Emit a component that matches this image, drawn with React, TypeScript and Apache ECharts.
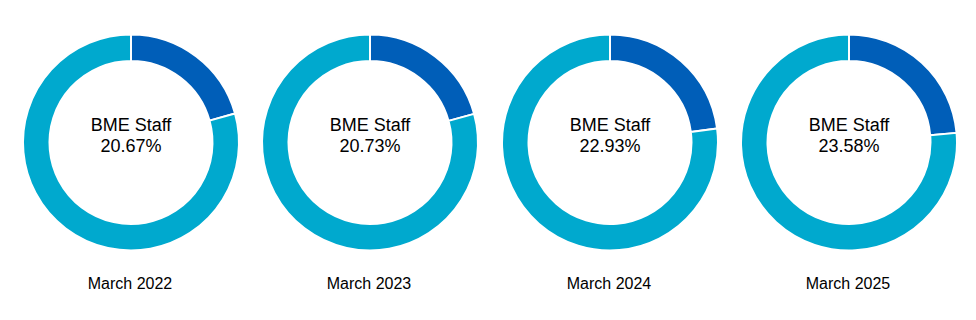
import React, { useEffect, useRef } from "react";
import * as echarts from "echarts";

const periods = ["March 2022", "March 2023", "March 2024", "March 2025"];
const bmeShare = [20.67, 20.73, 22.93, 23.58];
const centerLabel = "BME Staff";
const colors = ["#005EB8", "#00A9CE"];

const centersX = [123, 362, 602, 841];
const centerY = 134.5;

export default function App() {
  const ref = useRef<HTMLDivElement>(null);
  useEffect(() => {
    if (!ref.current) return;
    const chart = echarts.init(ref.current, null, { renderer: "svg" });
    const series = bmeShare.map((v, i) => ({
      type: "pie",
      center: [centersX[i], centerY],
      radius: [81.5, 108],
      startAngle: 90,
      clockwise: true,
      silent: true,
      label: { show: false },
      labelLine: { show: false },
      itemStyle: { borderColor: "#ffffff", borderWidth: 2 },
      data: [
        { name: "BME", value: v, itemStyle: { color: colors[0] } },
        { name: "Other", value: +(100 - v).toFixed(2), itemStyle: { color: colors[1] } },
      ],
    }));
    const titles: any[] = [];
    bmeShare.forEach((v, i) => {
      titles.push({
        text: centerLabel + "\n" + v.toFixed(2) + "%",
        left: centersX[i],
        top: 106,
        padding: 0,
        textAlign: "center",
        textStyle: {
          fontFamily: "Liberation Sans, Arial, sans-serif",
          fontSize: 18,
          fontWeight: "normal",
          color: "#000",
          lineHeight: 21,
        },
      });
      titles.push({
        text: periods[i],
        left: centersX[i] - 1,
        top: 267,
        padding: 0,
        textAlign: "center",
        textStyle: {
          fontFamily: "Liberation Sans, Arial, sans-serif",
          fontSize: 16,
          fontWeight: "normal",
          color: "#000",
          lineHeight: 16,
        },
      });
    });
    chart.setOption({
      animation: false,
      backgroundColor: "#ffffff",
      title: titles,
      series,
    });
    return () => chart.dispose();
  }, []);
  return <div ref={ref} style={{ width: 960, height: 304 }} />;
}
